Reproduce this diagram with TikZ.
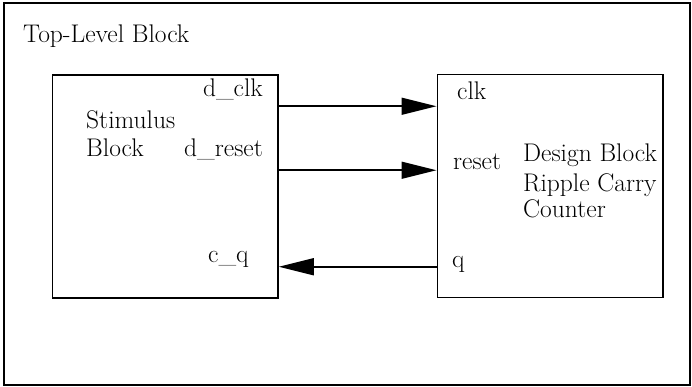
\documentclass[tikz,border=0pt]{standalone}
\usetikzlibrary{arrows.meta,positioning}
\begin{document}
\begin{tikzpicture}[x=1pt,y=-1pt,
    every node/.style={font=\fontsize{25.5}{29}\selectfont},
    blk/.style={draw,line width=1.5pt,minimum width=225.5pt,minimum height=223pt,inner sep=0pt},
    sig/.style={line width=1.5pt,-{Triangle[length=35pt,width=17pt]}},
    lbl/.style={inner sep=0pt}]
          \useasboundingbox (0,0) rectangle (692,387);
          \draw[line width=1.5pt] (4,3) rectangle (690,385);
          \node[lbl,anchor=base west] (toplabel) at (23,43) {Top-Level Block};
          % stimulus block
          \node[blk] (stim) at (165.25,186.5) {};
          \node[lbl,anchor=base west] (stimname) at (86,129) {Stimulus};
          \node[lbl,anchor=base west] (stimname2) at (86,157) {Block};
          \node[lbl,anchor=base east] (dclk) at (263,97) {d\_clk};
          \node[lbl,anchor=base east] (dreset) at (263,157) {d\_reset};
          \node[lbl,anchor=base west] (cq) at (208,262) {c\_q};
          % design block
          \node[blk] (dsgn) at (550,186) {};
          \node[lbl,anchor=base west] (clk) at (457,100) {clk};
          \node[lbl,anchor=base west] (reset) at (453,170) {reset};
          \node[lbl,anchor=base west] (q) at (452,267) {q};
          \node[lbl,anchor=base west] (dname) at (523,162) {Design Block};
          \node[lbl,anchor=base west] (dname2) at (523,192) {Ripple Carry};
          \node[lbl,anchor=base west] (dname3) at (523,217) {Counter};
          % pins
          \path (stim.north east) ++(0,32) coordinate (clkpin);
          \path (stim.north east) ++(0,96) coordinate (resetpin);
          \path (dsgn.north west) ++(0,193) coordinate (qpin);
          \draw[sig] (clkpin) -- (clkpin -| dsgn.west);
          \draw[sig] (resetpin) -- (resetpin -| dsgn.west);
          \draw[sig] (qpin) -- (qpin -| stim.east);
        \end{tikzpicture}
\end{document}
